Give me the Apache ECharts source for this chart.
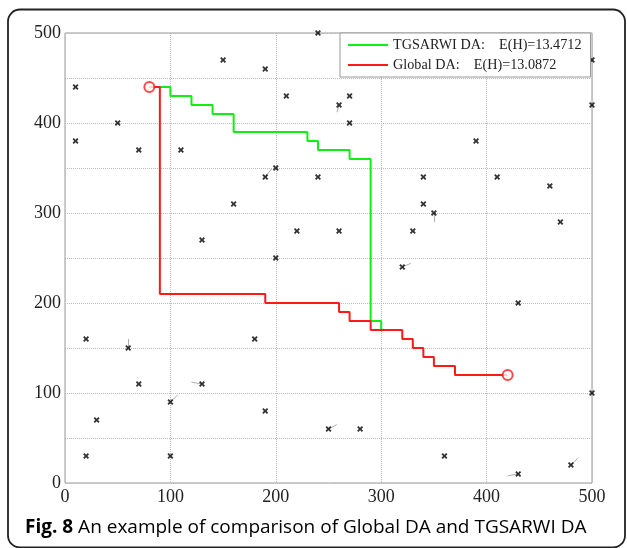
<!DOCTYPE html>
<html>
<head>
<meta charset="utf-8">
<script src="https://cdn.jsdelivr.net/npm/echarts@6/dist/echarts.min.js"></script>
<style>
  html, body { margin: 0; padding: 0; background: #fff; }
  #chart { width: 627px; height: 548px; }
</style>
</head>
<body>
<div id="chart"></div>
<script>
  // region data
  var pointX = [10, 10, 50, 70, 110, 150, 190, 210, 240, 200, 190, 240, 160, 130, 220, 200,
                270, 260, 270, 500, 500, 390, 340, 410, 460, 340, 350, 470, 260, 330, 320,
                20, 60, 70, 130, 100, 30, 20, 100, 180, 190,
                430, 500, 250, 280, 360, 430, 480];
  var pointY = [440, 380, 400, 370, 370, 470, 460, 430, 500, 350, 340, 340, 310, 270, 280, 250,
                430, 420, 400, 420, 470, 380, 340, 340, 330, 310, 300, 290, 280, 280, 240,
                160, 150, 110, 110, 90, 70, 30, 30, 160, 80,
                200, 100, 60, 60, 30, 10, 20];

  // short grey tails next to some points: [x1, y1, x2, y2]
  var tails = [
    [260, 420, 258, 412], [60, 150, 60, 160], [130, 110, 120, 112], [100, 90, 107, 98],
    [350, 300, 350, 290], [320, 240, 328, 244], [250, 60, 258, 65], [430, 10, 420, 8],
    [480, 20, 487, 28], [190, 340, 196, 349]
  ];

  // step paths: horizontal at y[i] until x[i+1], then drop to y[i+1]
  var greenX = [80, 100, 120, 140, 160, 230, 240, 270, 290, 300];
  var greenY = [440, 430, 420, 410, 390, 380, 370, 360, 180, 170];
  var redX = [80, 90, 190, 260, 270, 290, 320, 330, 340, 350, 370, 420];
  var redY = [440, 210, 200, 190, 180, 170, 160, 150, 140, 130, 120, 120];

  var xTicks = [0, 100, 200, 300, 400, 500];
  var yTicks = [0, 100, 200, 300, 400, 500];

  var seriesNames = ['TGSARWI DA', 'Global DA'];
  var legendText = {
    'TGSARWI DA': 'TGSARWI DA:    E(H)=13.4712',
    'Global DA': 'Global DA:    E(H)=13.0872'
  };
  var caption = ['Fig. 8', ' An example of comparison of Global DA and TGSARWI DA'];
  // endregion

  function stepPath(xs, ys) {
    var out = [[xs[0], ys[0]]];
    for (var i = 1; i < xs.length; i++) {
      out.push([xs[i], ys[i - 1]]);
      out.push([xs[i], ys[i]]);
    }
    return out;
  }

  var points = pointX.map(function (x, i) { return [x, pointY[i]]; });
  var tailData = tails.map(function (t) { return { coords: [[t[0], t[1]], [t[2], t[3]]] }; });
  var ends = [[redX[0], redY[0]], [redX[redX.length - 1], redY[redY.length - 1]]];

  var serif = '"Liberation Serif", "Times New Roman", serif';
  // bold "x" marker
  var crossPath = 'path://M0,2.2L2.2,0L5,2.8L7.8,0L10,2.2L7.2,5L10,7.8L7.8,10L5,7.2L2.2,10L0,7.8L2.8,5Z';

  var chart = echarts.init(document.getElementById('chart'));
  var option = {
    backgroundColor: '#fff',
    animation: false,
    grid: {
      left: 65, right: 35, top: 33, bottom: 65,
      show: true, borderColor: '#999', borderWidth: 1
    },
    legend: {
      left: 340, top: 33,
      orient: 'vertical',
      data: seriesNames.map(function (n) { return { name: n, icon: 'rect' }; }),
      itemWidth: 40, itemHeight: 2, itemGap: 0,
      padding: [2, 9, 2, 8],
      backgroundColor: '#fff',
      borderColor: '#999', borderWidth: 1,
      formatter: function (name) { return legendText[name]; },
      textStyle: { fontFamily: serif, fontSize: 14.2, color: '#222', lineHeight: 20 }
    },
    xAxis: {
      type: 'value', min: 0, max: 500, interval: 100,
      axisLine: { show: false }, axisTick: { show: false },
      axisLabel: {
        fontFamily: serif, fontSize: 18, color: '#222', margin: 5,
        formatter: function (v) { return xTicks.indexOf(v) >= 0 ? String(v) : ''; }
      },
      splitLine: { lineStyle: { color: '#bbb', type: [1, 1], width: 1 } }
    },
    yAxis: {
      type: 'value', min: 0, max: 500, interval: 50,
      axisLine: { show: false }, axisTick: { show: false },
      axisLabel: {
        fontFamily: serif, fontSize: 18, color: '#222', margin: 4,
        formatter: function (v) { return yTicks.indexOf(v) >= 0 ? String(v) : ''; }
      },
      splitLine: { lineStyle: { color: '#bbb', type: [1, 1], width: 1 } }
    },
    graphic: [
      {
        type: 'rect', silent: true,
        shape: { x: 8, y: 9.5, width: 617, height: 538, r: 12 },
        style: { fill: 'none', stroke: '#222', lineWidth: 1.8 }
      },
      {
        type: 'text', left: 25, top: 518, silent: true,
        style: {
          text: '{b|' + caption[0] + '}{n|' + caption[1] + '}',
          rich: {
            b: { fontFamily: '"Open Sans", sans-serif', fontWeight: 'bold', fontSize: 19, color: '#1a1a1a' },
            n: { fontFamily: '"Open Sans", sans-serif', fontSize: 19, color: '#333' }
          }
        }
      }
    ],
    series: [
      {
        name: 'tails', type: 'lines', coordinateSystem: 'cartesian2d',
        data: tailData, silent: true,
        lineStyle: { color: '#999', width: 0.8, opacity: 1 },
        z: 2
      },
      {
        name: 'points', type: 'scatter',
        data: points,
        symbol: crossPath, symbolSize: 6,
        itemStyle: { color: '#000' },
        z: 3
      },
      {
        name: seriesNames[0], type: 'line',
        data: stepPath(greenX, greenY),
        showSymbol: false,
        color: '#11ee11',
        lineStyle: { color: '#11ee11', width: 2 },
        z: 4
      },
      {
        name: seriesNames[1], type: 'line',
        data: stepPath(redX, redY),
        showSymbol: false,
        color: '#ff1a1a',
        lineStyle: { color: '#ff1a1a', width: 2 },
        z: 5
      },
      {
        name: 'ends', type: 'scatter',
        data: ends,
        symbol: 'circle', symbolSize: 10,
        itemStyle: { color: '#fff', borderColor: '#ff1a1a', borderWidth: 2 },
        z: 6
      }
    ]
  };
  chart.setOption(option, true);
</script>
</body>
</html>
